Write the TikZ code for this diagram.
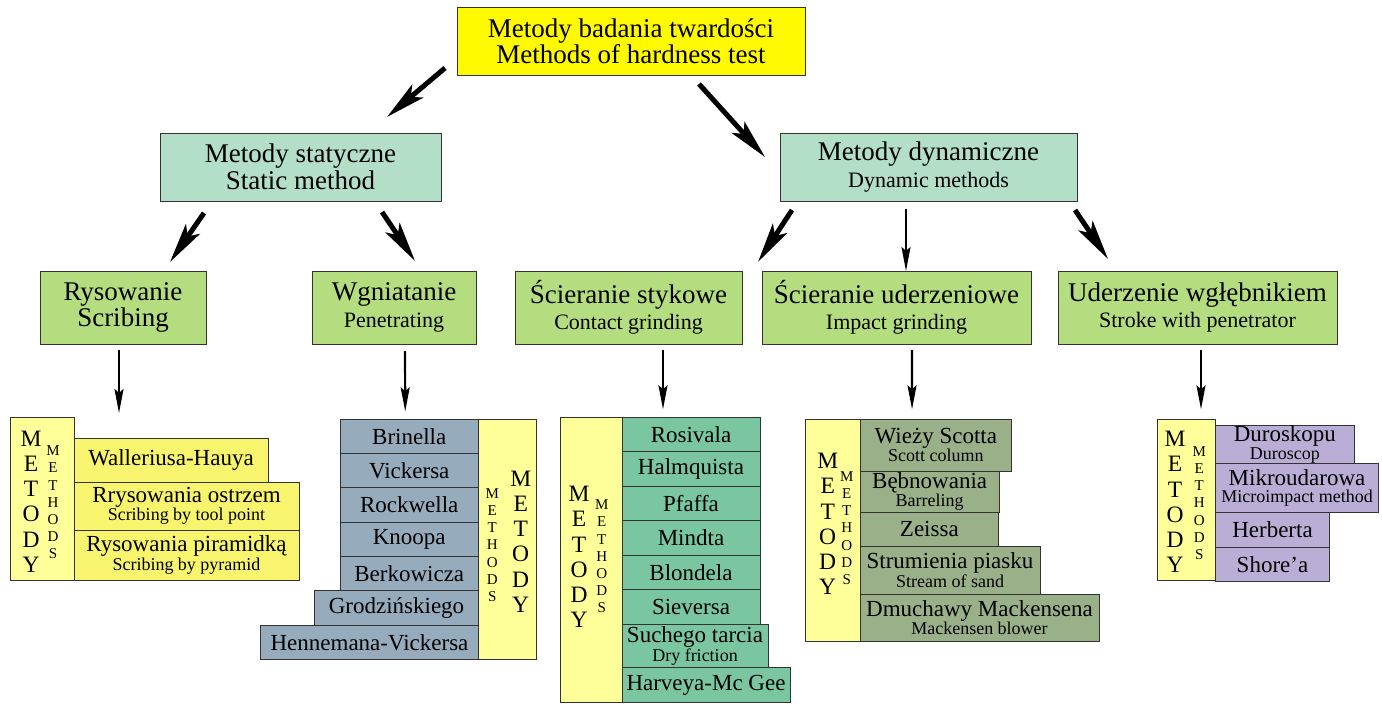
\documentclass[tikz,border=0pt]{standalone}
\usepackage{fontspec}
\setmainfont{Liberation Serif}
\usetikzlibrary{positioning,arrows.meta}

\definecolor{titleyellow}{RGB}{255,250,0}
\definecolor{kindgreen}{RGB}{179,222,200}
\definecolor{waygreen}{RGB}{180,221,128}
\definecolor{palecol}{RGB}{255,255,153}
\definecolor{scribeyellow}{RGB}{248,244,110}
\definecolor{pengray}{RGB}{150,172,188}
\definecolor{grindgreen}{RGB}{122,198,160}
\definecolor{impactolive}{RGB}{153,176,136}
\definecolor{strokelilac}{RGB}{186,174,214}

\newcommand{\subt}[1]{{\fontsize{22}{26}\selectfont #1}}
\newcommand{\enline}[1]{{\fontsize{18}{16}\selectfont #1}}

\tikzset{
  box/.style={draw=black!80, line width=0.9pt, inner sep=0pt, outer sep=0pt, align=center},
  title/.style={box, fill=titleyellow, font=\fontsize{27}{26}\selectfont},
  kind/.style={box, fill=kindgreen, minimum height=68pt, font=\fontsize{27}{26.5}\selectfont},
  way/.style={box, fill=waygreen, minimum height=73pt, font=\fontsize{27}{26.5}\selectfont},
  item/.style={box, font=\fontsize{23}{16.5}\selectfont},
  column/.style={box, fill=palecol, anchor=north west},
  scribe/.style={item, fill=scribeyellow, anchor=north west},
  pen/.style={item, fill=pengray, anchor=north east},
  grind/.style={item, fill=grindgreen, anchor=north west},
  blow/.style={item, fill=impactolive, anchor=north west},
  hit/.style={item, fill=strokelilac, anchor=north west},
  bigletters/.style={inner sep=0pt, align=center, font=\fontsize{23.5}{25.2}\selectfont},
  smallletters/.style={inner sep=0pt, align=center, font=\fontsize{15}{17.2}\selectfont},
  bigarrow/.style={line width=5pt, -{Stealth[length=40pt,width=17pt,inset=9pt]}},
  downarrow/.style={line width=2.2pt, -{Stealth[length=24pt,width=9pt,inset=4pt]}}
}

\begin{document}
\begin{tikzpicture}[x=1pt, y=-1pt]
\useasboundingbox (0,0) rectangle (1382,707);

% main levels
\node[title, minimum width=348pt, minimum height=68pt] (hardness) at (631,41) {Metody badania twardości\\Methods of hardness test};
\node[kind, minimum width=281pt] (static) at (300.5,167) {Metody statyczne\\Static method};
\node[kind, minimum width=297pt] (dynamic) at (928.5,167) {Metody dynamiczne\\\subt{Dynamic methods}};

\node[way, minimum width=166pt] (scribing) at (123,307.5) {Rysowanie\\Scribing};
\node[way, minimum width=164pt] (penetrating) at (394,307.5) {Wgniatanie\\\subt{Penetrating}};
\node[way, minimum width=227pt] (contact) at (628.5,307.5) {Ścieranie stykowe\\\subt{Contact grinding}};
\node[way, minimum width=269pt] (impact) at (896.5,307.5) {Ścieranie uderzeniowe\\\subt{Impact grinding}};
\node[way, minimum width=279pt] (stroke) at (1197.5,307.5) {Uderzenie wgłębnikiem\\\subt{Stroke with penetrator}};

% scribing methods
\node[column, minimum width=64pt, minimum height=163pt] (col1) at (10,417) {};
\node[bigletters] (metody1) at (31,501.5) {M\\E\\T\\O\\D\\Y};
\node[smallletters] (methods1) at (53,502.5) {M\\E\\T\\H\\O\\D\\S};
\node[scribe, minimum width=194pt, minimum height=44pt] (walleriusa) at (74,438) {Walleriusa-Hauya};
\node[scribe, minimum width=225pt, minimum height=48pt] (ostrzem) at (walleriusa.south west) {Rrysowania ostrzem\\\enline{Scribing by tool point}};
\node[scribe, minimum width=225pt, minimum height=50pt] (piramidka) at (ostrzem.south west) {Rysowania piramidką\\\enline{Scribing by pyramid}};

% penetrating methods
\node[column, minimum width=58pt, minimum height=240pt] (col2) at (478.5,419.3) {};
\node[bigletters] (metody2) at (520.7,541.5) {M\\E\\T\\O\\D\\Y};
\node[smallletters] (methods2) at (492.3,545) {M\\E\\T\\H\\O\\D\\S};
\node[pen, minimum width=138.5pt, minimum height=34.3pt] (brinella) at (col2.north west) {Brinella};
\node[pen, minimum width=138.5pt, minimum height=34.3pt] (vickersa) at (brinella.south east) {Vickersa};
\node[pen, minimum width=138.5pt, minimum height=34.3pt] (rockwella) at (vickersa.south east) {Rockwella};
\node[pen, minimum width=138.5pt, minimum height=34.3pt] (knoopa) at (rockwella.south east) {Knoopa};
\node[pen, minimum width=138.5pt, minimum height=34.3pt] (berkowicza) at (knoopa.south east) {Berkowicza};
\node[pen, minimum width=164pt, minimum height=34.3pt] (grodzinski) at (berkowicza.south east) {Grodzińskiego};
\node[pen, minimum width=218pt, minimum height=34.4pt] (hennemana) at (grodzinski.south east) {Hennemana-Vickersa};

% contact grinding methods
\node[column, minimum width=62pt, minimum height=285.4pt] (col3) at (560,417.3) {};
\node[bigletters] (metody3) at (579,557) {M\\E\\T\\O\\D\\Y};
\node[smallletters] (methods3) at (601.7,556.5) {M\\E\\T\\H\\O\\D\\S};
\node[grind, minimum width=138pt, minimum height=34.5pt] (rosivala) at (col3.north east) {Rosivala};
\node[grind, minimum width=138pt, minimum height=34.5pt] (halmquista) at (rosivala.south west) {Halmquista};
\node[grind, minimum width=138pt, minimum height=34.5pt] (pfaffa) at (halmquista.south west) {Pfaffa};
\node[grind, minimum width=138pt, minimum height=34.5pt] (mindta) at (pfaffa.south west) {Mindta};
\node[grind, minimum width=138pt, minimum height=34.5pt] (blondela) at (mindta.south west) {Blondela};
\node[grind, minimum width=138pt, minimum height=34.5pt] (sieversa) at (blondela.south west) {Sieversa};
\node[grind, minimum width=146pt, minimum height=43.4pt] (suchego) at (sieversa.south west) {Suchego tarcia\\\enline{Dry friction}};
\node[grind, minimum width=168pt, minimum height=35pt] (harveya) at (suchego.south west) {Harveya-Mc Gee};

% impact grinding methods
\node[column, minimum width=54.3pt, minimum height=222.4pt] (col4) at (805.7,419.3) {};
\node[bigletters] (metody4) at (827.7,524) {M\\E\\T\\O\\D\\Y};
\node[smallletters] (methods4) at (846.7,528) {M\\E\\T\\H\\O\\D\\S};
\node[blow, minimum width=151.7pt, minimum height=51.7pt] (wiezy) at (col4.north east) {Wieży Scotta\\\enline{Scott column}};
\node[blow, minimum width=139.3pt, minimum height=41.3pt] (bebnowania) at (wiezy.south west) {Bębnowania\\\enline{Barreling}};
\node[blow, minimum width=138.7pt, minimum height=33.7pt] (zeissa) at (bebnowania.south west) {Zeissa};
\node[blow, minimum width=180pt, minimum height=48pt] (strumienia) at (zeissa.south west) {Strumienia piasku\\\enline{Stream of sand}};
\node[blow, minimum width=239pt, minimum height=47.7pt] (dmuchawy) at (strumienia.south west) {Dmuchawy Mackensena\\\enline{Mackensen blower}};

% penetrator stroke methods
\node[column, minimum width=58.4pt, minimum height=161.4pt] (col5) at (1157.3,419.3) {};
\node[bigletters] (metody5) at (1175,502) {M\\E\\T\\O\\D\\Y};
\node[smallletters] (methods5) at (1199.3,503) {M\\E\\T\\H\\O\\D\\S};
\node[hit, minimum width=138.3pt, minimum height=38.3pt] (duroskopu) at (1215.7,425) {Duroskopu\\\enline{Duroscop}};
\node[hit, minimum width=162.6pt, minimum height=49.4pt] (mikro) at (duroskopu.south west) {Mikroudarowa\\\enline{Microimpact method}};
\node[hit, minimum width=113.6pt, minimum height=34.6pt] (herberta) at (mikro.south west) {Herberta};
\node[hit, minimum width=113.6pt, minimum height=34.4pt] (shorea) at (herberta.south west) {Shore’a};

% arrows between levels
\draw[bigarrow] ([shift={(-12,-7)}]hardness.south west) -- ([shift={(-54,-16)}]static.north east);
\draw[bigarrow] ([shift={(68,9)}]hardness.south) -- ([shift={(-15,-10)}]dynamic.west);
\draw[bigarrow] ([shift={(44,12)}]static.south west) -- ([shift={(47,-9)}]scribing.north);
\draw[bigarrow] ([shift={(-59,11)}]static.south east) -- ([shift={(21,-10)}]penetrating.north);
\draw[bigarrow] ([shift={(12,9)}]dynamic.south west) -- ([shift={(16,-9)}]contact.north east);
\draw[downarrow] ([shift={(-22.5,8)}]dynamic.south) -- ([shift={(9.5,0)}]impact.north);
\draw[bigarrow] ([shift={(-2,9)}]dynamic.south east) -- ([shift={(50,-12)}]stroke.north west);

% arrows down to the method lists
\draw[downarrow] ([shift={(-4,6)}]scribing.south) -- ([shift={(45,-4)}]col1.north east);
\draw[downarrow] ([shift={(11,7)}]penetrating.south) -- ([shift={(-4,-8)}]brinella.north);
\draw[downarrow] ([shift={(34.5,6)}]contact.south) -- ([shift={(-28,-8)}]rosivala.north);
\draw[downarrow] ([shift={(15.5,6)}]impact.south) -- ([shift={(-23.8,-10)}]wiezy.north);
\draw[downarrow] ([shift={(3.5,6)}]stroke.south) -- ([shift={(-14.7,-10)}]col5.north east);
\end{tikzpicture}
\end{document}
